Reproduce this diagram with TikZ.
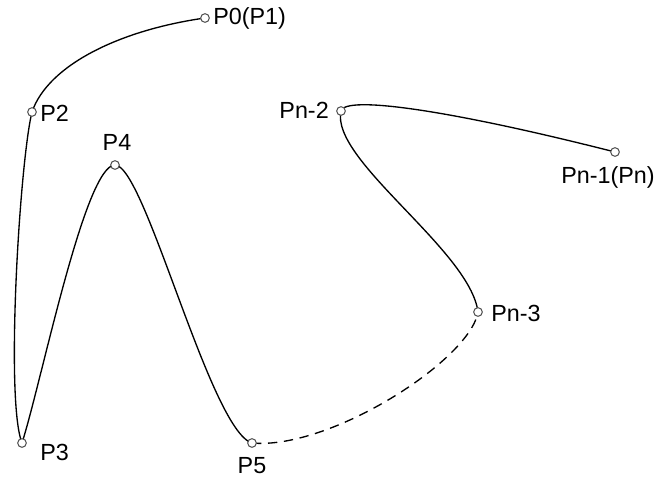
\documentclass[tikz,border=0pt]{standalone}
\usepackage{fontspec}
\setmainfont{Liberation Sans}
\usetikzlibrary{positioning}

\begin{document}
\begin{tikzpicture}[x=0.75pt, y=-0.75pt,
  pt/.style={circle, draw=black!65, fill=white, inner sep=0pt, minimum size=6.5pt, line width=0.8pt},
  lbl/.style={font=\fontsize{17.5}{20}\selectfont, inner sep=0pt},
  spline/.style={line width=1pt}]
\useasboundingbox (0,0) rectangle (657,479);

% control points
\coordinate (P0) at (205,18);
\coordinate (P2) at (32,112);
\coordinate (P3) at (22,443);
\coordinate (P4) at (115,165);
\coordinate (P5) at (252,443);
\coordinate (Pn3) at (478,312);
\coordinate (Pn2) at (341,111);
\coordinate (Pn1) at (615,152);

% the curve
\draw[spline]
  (P0) .. controls (120,30) and (48,65) .. (P2)
  .. controls (20,160) and (5,400) .. (P3)
  .. controls (42,380) and (85,165) .. (P4)
  .. controls (145,165) and (210,430) .. (P5);
\draw[spline, dashed, dash pattern=on 7pt off 5pt]
  (P5) .. controls (330,450) and (470,360) .. (Pn3);
\draw[spline]
  (Pn3) .. controls (470,250) and (330,160) .. (Pn2)
  .. controls (345,95) and (450,110) .. (Pn1);

% points
\foreach \p in {P0,P2,P3,P4,P5,Pn3,Pn2,Pn1}
  \node[pt] at (\p) {};

% labels
\node[lbl, anchor=west] at (213,18) {P0(P1)};
\node[lbl, anchor=west] at (40,113) {P2};
\node[lbl] at (117,142) {P4};
\node[lbl, anchor=west] at (40,452) {P3};
\node[lbl] at (252,466) {P5};
\node[lbl, anchor=east] at (329,110) {Pn-2};
\node[lbl, anchor=west] at (491,313) {Pn-3};
\node[lbl] at (608,177) {Pn-1(Pn)};
\end{tikzpicture}
\end{document}
